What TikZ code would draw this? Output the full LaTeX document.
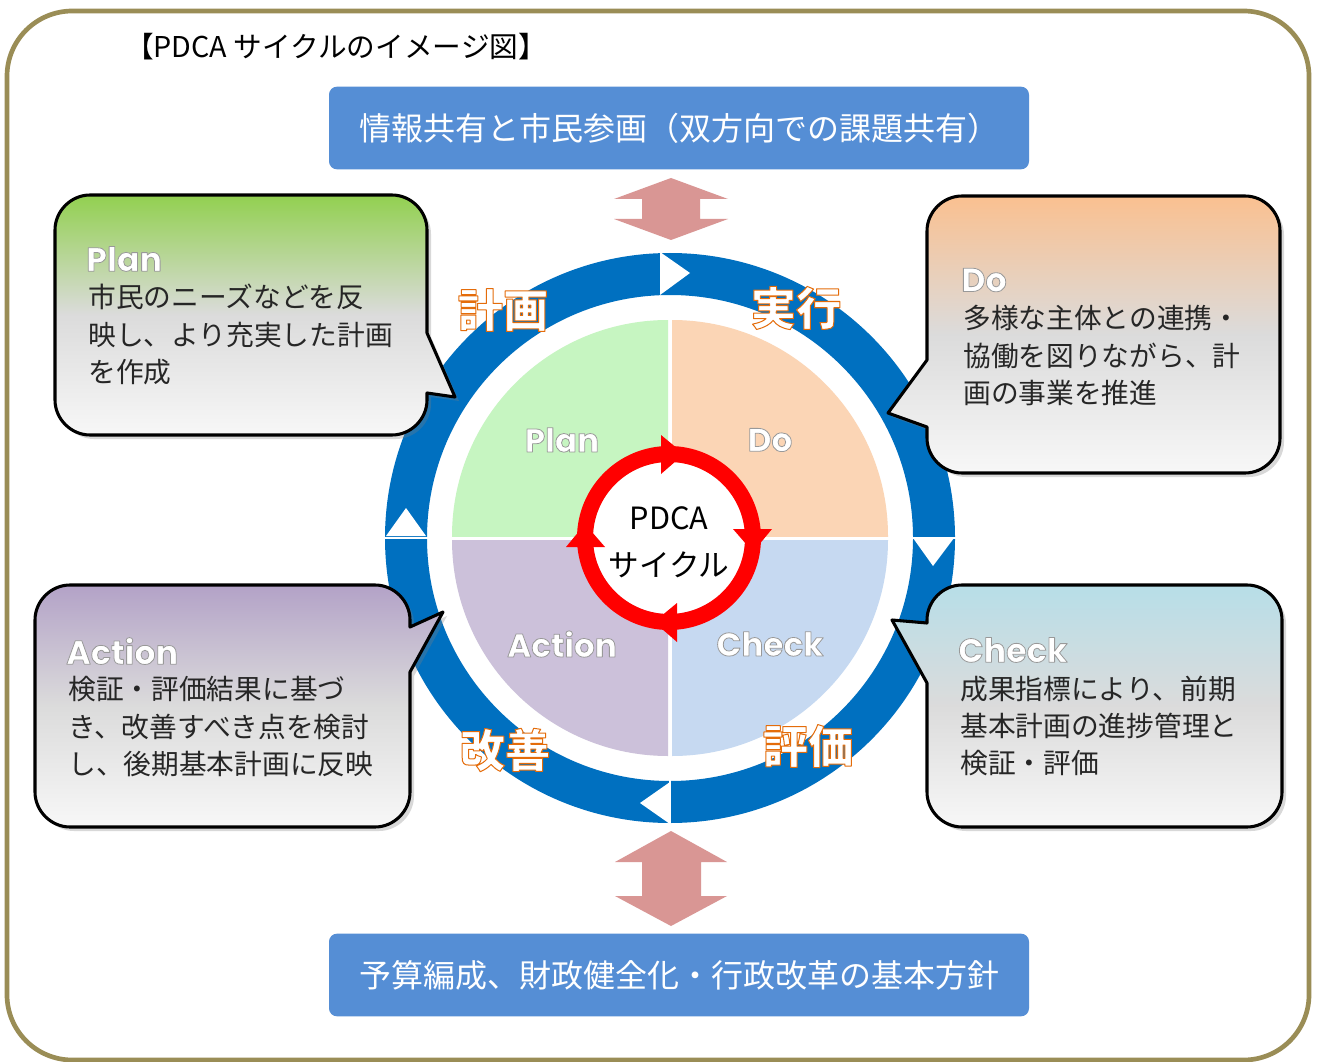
\documentclass[tikz,border=0pt]{standalone}
\usepackage{fontspec}
\setmainfont{Noto Sans CJK JP}
\newfontfamily\popp{Poppins}
\usetikzlibrary{shadows}
\definecolor{boxblue}{HTML}{558ED5}
\definecolor{ringblue}{HTML}{0070C0}
\definecolor{frameol}{HTML}{9A8D56}
\definecolor{arrpink}{HTML}{D99694}
\definecolor{qplan}{HTML}{C6F5C1}
\definecolor{qdo}{HTML}{FBD5B5}
\definecolor{qact}{HTML}{CCC1DA}
\definecolor{qchk}{HTML}{C6D9F1}
\definecolor{cplan}{HTML}{92D050}
\definecolor{cdo}{HTML}{FAC090}
\definecolor{cact}{HTML}{B3A2C7}
\definecolor{cchk}{HTML}{B7DEE8}
\definecolor{lblor}{HTML}{E46C0A}
\newcommand\fsbody{\fontsize{20.8pt}{24pt}\selectfont}
\newcommand\fsttl{\popp\bfseries\fontsize{25pt}{28pt}\selectfont}
\newcommand\fsqlab{\popp\bfseries\fontsize{24.5pt}{28pt}\selectfont}
\newcommand\fsbar{\fontsize{24pt}{28pt}\selectfont}
\newcommand\fsorange{\bfseries\fontsize{34pt}{38pt}\selectfont}
\newcommand\fscenter{\fontsize{23pt}{26pt}\selectfont}
\newcommand\fstitle{\fontsize{21.5pt}{24pt}\selectfont}
% outlined text via PDF text render mode 2 (fill + stroke)
\newcommand\strk[3]{\special{pdf:literal direct #1 RG #2 w 1 j 2 Tr}#3\special{pdf:literal direct 0 Tr}}
\newcommand\wlab[1]{\textcolor{white}{\strk{0.6 0.6 0.6}{0.6}{#1}}}
\newcommand\olab[1]{\textcolor{white}{\strk{0.894 0.424 0.039}{0.75}{#1}}}
\begin{document}
\begin{tikzpicture}[x=0.75pt,y=-0.75pt,
  callout/.style={draw=black, line width=2.3pt, line join=round,
    drop shadow={shadow xshift=3pt, shadow yshift=-3pt, opacity=0.3}},
  bar/.style={fill=boxblue, rounded corners=6pt, minimum width=525pt,
    minimum height=62pt, text=white, font=\fsbar, inner sep=0pt},
  body/.style={anchor=west, font=\fsbody, text=black!85, inner sep=0pt},
  ttl/.style={anchor=west, font=\fsttl, inner sep=0pt},
  qlab/.style={font=\fsqlab, inner sep=0pt},
  olabel/.style={font=\fsorange, inner sep=0pt},
  wtri/.style={fill=white},
  rtri/.style={fill=red}]
\useasboundingbox (0,0) rectangle (1319,1062);
\fill[white] (0,0) rectangle (1319,1062);
\draw[frameol, line width=3.5pt, rounded corners=49pt] (7,11) rectangle (1309,1060);

\node[font=\fstitle, inner sep=0pt] (title) at (336,47) {【PDCA サイクルのイメージ図】};

\node[bar] (info) at (679,128) {情報共有と市民参画（双方向での課題共有）};
\node[bar] (budget) at (679,975) {予算編成、財政健全化・行政改革の基本方針};

% double arrows
\fill[arrpink] (671,178) -- (728,199) -- (700,199) -- (700,219) -- (728,219) -- (671,240)
  -- (614,219) -- (642,219) -- (642,199) -- (614,199) -- cycle;
\fill[arrpink] (671,831) -- (727,862) -- (701,862) -- (701,896) -- (727,896) -- (671,926)
  -- (615,896) -- (642,896) -- (642,862) -- (615,862) -- cycle;

% blue ring
\draw[ringblue, line width=31.5pt] (670,538) circle[radius=264];
\draw[white, line width=0.8pt] (384,538) -- (430,538);
\draw[white, line width=0.8pt] (910,538) -- (956,538);
\draw[white, line width=0.8pt] (670,779) -- (670,825);
\fill[wtri] (660,252) -- (660,295) -- (690,273) -- cycle;
\fill[wtri] (913,538) -- (954,538) -- (933,566) -- cycle;
\fill[wtri] (670,782) -- (670,824) -- (640,803) -- cycle;
\fill[wtri] (386,536) -- (426,536) -- (406,508) -- cycle;

% quadrants
\begin{scope}
\clip (440,310) rectangle (668,536);
\fill[qplan] (668,536) circle[radius=216];
\end{scope}
\begin{scope}
\clip (672,310) rectangle (900,536);
\fill[qdo] (672,536) circle[radius=216];
\end{scope}
\begin{scope}
\clip (440,540) rectangle (668,770);
\fill[qact] (668,540) circle[radius=216];
\end{scope}
\begin{scope}
\clip (672,540) rectangle (900,770);
\fill[qchk] (672,540) circle[radius=216];
\end{scope}

% red cycle
\fill[white] (669,538) circle[radius=76];
\draw[red, line width=12pt] (669,538) circle[radius=84];
\fill[rtri] (661,435) -- (661,474) -- (684,454) -- cycle;
\fill[rtri] (733,529) -- (772,529) -- (753,552) -- cycle;
\fill[rtri] (677,603) -- (677,642) -- (654,622) -- cycle;
\fill[rtri] (566,547) -- (605,547) -- (585,524) -- cycle;
\node[font=\fscenter, inner sep=0pt] (pdca) at (669,518) {PDCA};
\node[font=\fscenter, inner sep=0pt] (cycle) at (669,565) {サイクル};

% quadrant labels
\node[qlab] (qp) at (562,440) {\wlab{Plan}};
\node[qlab] (qd) at (770,440) {\wlab{Do}};
\node[qlab] (qa) at (562,644) {\wlab{Action}};
\node[qlab] (qc) at (770,644) {\wlab{Check}};

% orange labels
\node[olabel] (keikaku) at (503,310) {\olab{計画}};
\node[olabel] (jikkou) at (796,308) {\olab{実行}};
\node[olabel] (kaizen) at (505,750) {\olab{改善}};
\node[olabel] (hyouka) at (808,746) {\olab{評価}};

% Plan callout
\path[callout, top color=cplan, bottom color=white!97!black, middle color=black!14]
  (427,333) -- (455,397) -- (427,393) -- (427,400) .. controls (427,419) and (411,435) .. (392,435)
  -- (90,435) .. controls (71,435) and (55,419) .. (55,400)
  -- (55,230) .. controls (55,211) and (71,195) .. (90,195)
  -- (392,195) .. controls (411,195) and (427,211) .. (427,230) -- cycle;
\node[ttl] (pt) at (86,259) {\wlab{Plan}};
\node[body] (p1) at (88,297) {市民のニーズなどを反};
\node[body] (p2) at (88,335) {映し、より充実した計画};
\node[body] (p3) at (88,372) {を作成};

% Do callout
\path[callout, top color=cdo, bottom color=white!97!black, middle color=black!14]
  (927,427) -- (888,413) -- (927,360)
  -- (927,231) .. controls (927,212) and (943,196) .. (962,196)
  -- (1245,196) .. controls (1264,196) and (1280,212) .. (1280,231)
  -- (1280,438) .. controls (1280,457) and (1264,473) .. (1245,473)
  -- (962,473) .. controls (943,473) and (927,457) .. (927,438) -- cycle;
\node[ttl] (dt) at (961,280) {\wlab{Do}};
\node[body] (d1) at (963,318) {多様な主体との連携・};
\node[body] (d2) at (963,356) {協働を図りながら、計};
\node[body] (d3) at (963,393) {画の事業を推進};

% Action callout
\path[callout, top color=cact, bottom color=white!97!black, middle color=black!14]
  (410,627) -- (443,612) -- (410,672)
  -- (410,792) .. controls (410,811) and (394,827) .. (375,827)
  -- (70,827) .. controls (51,827) and (35,811) .. (35,792)
  -- (35,620) .. controls (35,601) and (51,585) .. (70,585)
  -- (375,585) .. controls (394,585) and (410,601) .. (410,620) -- cycle;
\node[ttl] (at) at (66,651) {\wlab{Action}};
\node[body] (a1) at (68,689) {検証・評価結果に基づ};
\node[body] (a2) at (68,727) {き、改善すべき点を検討};
\node[body] (a3) at (68,764) {し、後期基本計画に反映};

% Check callout
\path[callout, top color=cchk, bottom color=white!97!black, middle color=black!14]
  (927,683) -- (892,620) -- (927,623)
  -- (927,620) .. controls (927,601) and (943,585) .. (962,585)
  -- (1247,585) .. controls (1266,585) and (1282,601) .. (1282,620)
  -- (1282,792) .. controls (1282,811) and (1266,827) .. (1247,827)
  -- (962,827) .. controls (943,827) and (927,811) .. (927,792) -- cycle;
\node[ttl] (ct) at (958,650) {\wlab{Check}};
\node[body] (c1) at (960,689) {成果指標により、前期};
\node[body] (c2) at (960,726) {基本計画の進捗管理と};
\node[body] (c3) at (960,763) {検証・評価};
\end{tikzpicture}
\end{document}
